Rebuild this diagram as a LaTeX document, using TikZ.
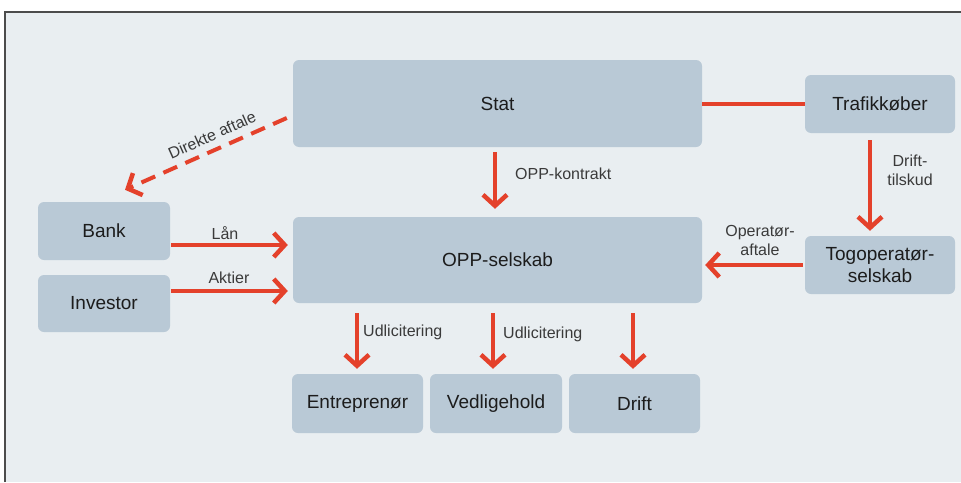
\documentclass[tikz,border=0pt]{standalone}
\usepackage{fontspec}
\setmainfont{Liberation Sans}
\usetikzlibrary{arrows.meta,calc}
\definecolor{bg}{HTML}{E9EEF1}
\definecolor{boxc}{HTML}{B9C9D6}
\definecolor{arr}{HTML}{E4412B}
\definecolor{txt}{HTML}{1C1C1C}
\definecolor{lbltxt}{HTML}{3A3A3A}
\begin{document}
\begin{tikzpicture}[x=1pt,y=-1pt,
  box/.style={fill=boxc, rounded corners=6pt, inner sep=0pt, font=\fontsize{19}{22}\selectfont, text=txt, align=center},
  conn/.style={draw=arr, line width=4pt, -{Straight Barb[length=11pt,width=24pt,line width=4.5pt]}},
  plain/.style={draw=arr, line width=4pt},
  lbl/.style={font=\fontsize{16}{19}\selectfont, text=lbltxt, align=center, inner sep=0pt}]

\useasboundingbox (0,0) rectangle (961,482);
\fill[white] (0,0) rectangle (961,482);
\fill[bg] (4,11) rectangle (961,482);
\draw[black!70, line width=1.8pt] (4.9,482) -- (4.9,11.9) -- (961,11.9);

\node[box, minimum width=409pt, minimum height=87pt] (stat) at (497.5,103.5) {Stat};
\node[box, minimum width=150pt, minimum height=58pt] (trafik) at (880,104) {Trafikkøber};
\node[box, minimum width=409pt, minimum height=86pt] (opp) at (497.5,260) {OPP-selskab};
\node[box, minimum width=132pt, minimum height=58pt] (bank) at (104,231) {Bank};
\node[box, minimum width=132pt, minimum height=57pt] (invest) at (104,303.5) {Investor};
\node[box, minimum width=150pt, minimum height=58pt] (tog) at (880,265) {Togoperatør-\\selskab};
\node[box, minimum width=131pt, minimum height=59pt] (entre) at (357.5,403.5) {Entreprenør};
\node[box, minimum width=132pt, minimum height=59pt] (vedl) at (496,403.5) {Vedligehold};
\node[box, minimum width=131pt, minimum height=59pt] (drift) at (634.5,403.5) {Drift};

% connectors
\draw[conn] ($(stat.south)+(-2.5,5)$) -- ($(opp.north)+(-2.5,-8)$);
\draw[plain] (stat.east) -- (trafik.west |- stat.east);
\draw[conn] ($(trafik.south)+(-10,7)$) -- ($(tog.north)+(-10,-5)$);
\draw[conn] ($(tog.west)+(-2,0)$) -- ($(opp.east)+(3,5)$);
\draw[conn] ($(bank.east)+(1,14)$) -- ($(opp.west)+(-5,-15)$);
\draw[conn] ($(invest.east)+(1,-12.5)$) -- ($(opp.west)+(-5,31)$);
\draw[conn, dash pattern=on 15pt off 9pt] ($(stat.west)+(-6,14.5)$) -- ($(bank.north)+(21,-12)$);
\draw[conn] ($(opp.south)+(-140.5,10)$) -- ($(entre.north)+(-0.5,-5)$);
\draw[conn] ($(opp.south)+(-4.5,10)$) -- ($(vedl.north)+(-3,-5)$);
\draw[conn] ($(opp.south)+(135.5,10)$) -- ($(drift.north)+(-1.5,-5)$);

% labels
\node[lbl, anchor=west] (lkontrakt) at (515,174) {OPP-kontrakt};
\node[lbl] (ltilskud) at (910,170) {Drift-\\tilskud};
\node[lbl] (laftale) at (760,240) {Operatør-\\aftale};
\node[lbl] (llan) at (225,233) {Lån};
\node[lbl] (laktier) at (229,278) {Aktier};
\node[lbl, anchor=west] (lud1) at (363,332) {Udlicitering};
\node[lbl, anchor=west] (lud2) at (503,334) {Udlicitering};
\node[lbl, rotate=24] (ldirekte) at (212,135) {Direkte aftale};
\end{tikzpicture}
\end{document}
